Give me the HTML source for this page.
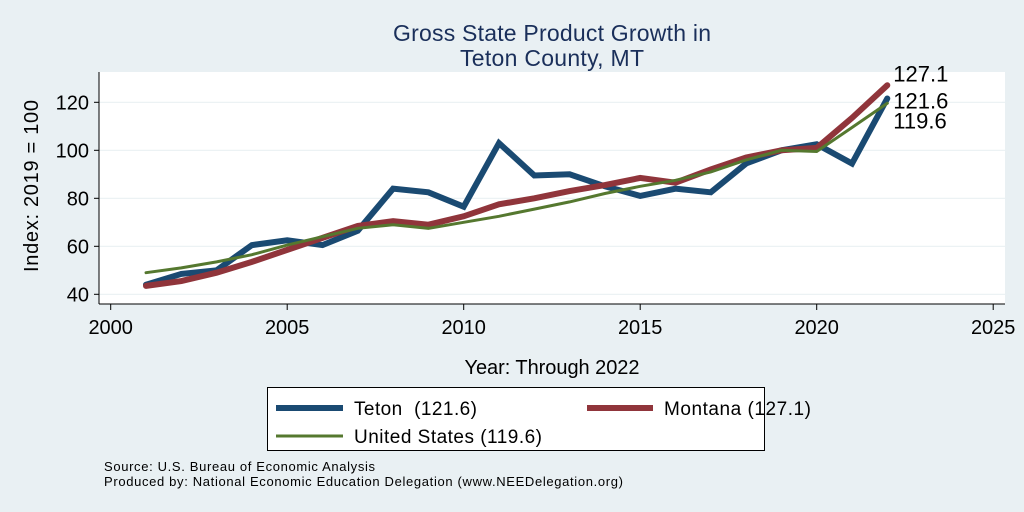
<!DOCTYPE html>
<html><head><meta charset="utf-8"><style>
html,body{margin:0;padding:0;background:#e9f0f3;}
svg{display:block;font-family:"Liberation Sans",Arial,sans-serif;}
</style></head><body>
<svg id="c" width="1024" height="512" viewBox="0 0 1024 512">
<rect x="0" y="0" width="1024" height="512" fill="#e9f0f3"/>
<rect x="99" y="72" width="906" height="232" fill="#ffffff"/>
<text x="552" y="41" text-anchor="middle" font-size="23" textLength="318" fill="#1a2f5a">Gross State Product Growth in</text>
<text x="552" y="66" text-anchor="middle" font-size="23" textLength="184" fill="#1a2f5a">Teton County, MT</text>
<g id="grid"></g><g id="axes"></g><g id="series"></g>
<text transform="translate(38,186) rotate(-90)" text-anchor="middle" font-size="20" textLength="172" fill="#000">Index: 2019 = 100</text>
<text x="552" y="374" text-anchor="middle" font-size="20" textLength="175" fill="#000">Year: Through 2022</text>
<g>
<rect x="267.5" y="387.5" width="497" height="63" fill="#fff" stroke="#000" stroke-width="1"/>
<line x1="276" y1="408" x2="343" y2="408" stroke="#1a4a72" stroke-width="6"/>
<text x="354" y="415" font-size="19" textLength="123">Teton&#160; (121.6)</text>
<line x1="587" y1="408" x2="653" y2="408" stroke="#90353b" stroke-width="6"/>
<text x="664" y="415" font-size="19" textLength="147">Montana (127.1)</text>
<line x1="276" y1="436" x2="343" y2="436" stroke="#55782f" stroke-width="3"/>
<text x="354" y="443" font-size="19" textLength="188">United States (119.6)</text>
</g>
<text x="104" y="471" font-size="13" textLength="271">Source: U.S. Bureau of Economic Analysis</text>
<text x="104" y="486" font-size="13" textLength="519">Produced by: National Economic Education Delegation (www.NEEDelegation.org)</text>
</svg>
<script>
const years=[2001,2002,2003,2004,2005,2006,2007,2008,2009,2010,2011,2012,2013,2014,2015,2016,2017,2018,2019,2020,2021,2022];
const teton=[44,48.5,50,60.5,62.5,60.5,66.5,84,82.5,76.5,103,89.5,90,85,81,84,82.5,94.5,100,102.5,94.5,121.6];
const montana=[43.5,45.5,49,53.5,58.5,63.5,68.5,70.5,69,72.5,77.5,80,83,85.5,88.5,86.5,92,97,100,101,113.5,127.1];
const us=[49,51,53.5,56.5,60.5,64,67.5,69,67.5,70,72.5,75.5,78.5,82,85,87.5,91,96,100,99.5,109.5,119.6];
const xTicks=[2000,2005,2010,2015,2020,2025];
const yTicks=[40,60,80,100,120];
const NS="http://www.w3.org/2000/svg";
const X=v=>110.7+(v-2000)*35.3;
const Y=v=>294.3-(v-40)*2.4;
function mk(tag,attrs,parent){const e=document.createElementNS(NS,tag);for(const k in attrs)e.setAttribute(k,attrs[k]);document.getElementById(parent).appendChild(e);return e;}
yTicks.forEach(t=>{
 const g=mk('line',{x1:99,x2:1005,y1:Y(t),y2:Y(t),stroke:'#eaf1f3','stroke-width':1.2},'grid');
 
 
 const tk=mk('line',{x1:94,x2:99,y1:Y(t),y2:Y(t),stroke:'#000'},'axes');
 
 
 const lb=mk('text',{x:89,y:Y(t)+7,'text-anchor':'end','font-size':20},'axes');
 lb.textContent=t;
 
 
});
xTicks.forEach(t=>{
 const tk=mk('line',{x1:X(t),x2:X(t),y1:304,y2:310,stroke:'#000'},'axes');
 
 
 const lb=mk('text',{x:X(t),y:334,'text-anchor':'middle','font-size':20},'axes');
 lb.textContent=t;
 
 
});
const ya=mk('line',{x1:99,x2:99,y1:72,y2:304,stroke:'#000'},'axes');


const xa=mk('line',{x1:99,x2:1005,y1:304,y2:304,stroke:'#000'},'axes');


function line(vals,color,w,name){
 const p=mk('polyline',{points:vals.map((v,i)=>X(years[i])+','+Y(v)).join(' '),fill:'none',stroke:color,'stroke-width':w,'stroke-linejoin':'miter','stroke-linecap':'round'},'series');
 
 
}
line(teton,'#1a4a72',6,'line-teton');
line(montana,'#90353b',6,'line-montana');
line(us,'#55782f',3,'line-us');
const n=years.length-1;
[[montana[n],-4,'label-montana-end'],[teton[n],10,'label-teton-end'],[us[n],25,'label-us-end']].forEach(([v,dy,nm])=>{
 const t=mk('text',{x:X(years[n])+6,y:Y(v)+dy,'font-size':22},'series');
 t.textContent=v.toFixed(1);
 
 
});
</script>
</body></html>
